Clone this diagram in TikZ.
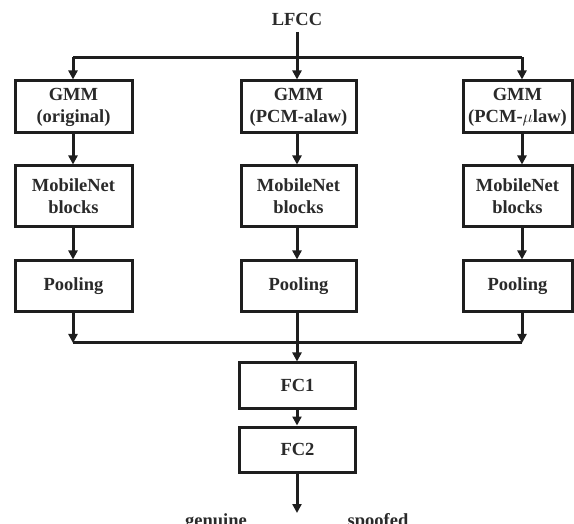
\documentclass[tikz,border=0pt]{standalone}
\usepackage{fontspec}
\setmainfont{Liberation Serif}
\usetikzlibrary{arrows.meta}
\definecolor{linec}{HTML}{1E1E1E}
\definecolor{txtc}{HTML}{2A2A2A}
\begin{document}
\begin{tikzpicture}[x=1pt,y=-1pt,
  blk/.style={draw=linec, line width=3pt, fill=white, text=txtc, align=center,
    inner sep=0pt, font=\fontsize{18.5}{22}\selectfont\bfseries},
  lbl/.style={text=txtc, inner sep=0pt, font=\fontsize{18.5}{22}\selectfont\bfseries},
  ln/.style={draw=linec, line width=3pt},
  arr/.style={ln, -{Triangle[length=9pt,width=9pt]}}]
\useasboundingbox (0,0) rectangle (574,524);

% input
\node[lbl, anchor=base] (lfcc) at (297,25.5) {LFCC};
\coordinate (src) at (297,32);
\coordinate (top) at (297,57.5);
\coordinate (tl) at (73,57.5);
\coordinate (tr) at (522,57.5);

% GMM row
\node[blk, minimum width=117pt, minimum height=52pt] (g1) at (73.5,107) {GMM\\(original)};
\node[blk, minimum width=115pt, minimum height=52pt] (g2) at (298.5,107) {GMM\\(PCM-alaw)};
\node[blk, minimum width=109pt, minimum height=52pt] (g3) at (517.5,107) {GMM\\(PCM-$\mu$law)};

% MobileNet row
\node[blk, minimum width=117pt, minimum height=61pt] (m1) at (73.5,196.5) {MobileNet\\blocks};
\node[blk, minimum width=115pt, minimum height=61pt] (m2) at (298.5,196.5) {MobileNet\\blocks};
\node[blk, minimum width=109pt, minimum height=61pt] (m3) at (517.5,196.5) {MobileNet\\blocks};

% Pooling row
\node[blk, minimum width=117pt, minimum height=51pt] (p1) at (73.5,286.5) {Pooling};
\node[blk, minimum width=115pt, minimum height=51pt] (p2) at (298.5,286.5) {Pooling};
\node[blk, minimum width=109pt, minimum height=51pt] (p3) at (517.5,286.5) {Pooling};

% merge
\coordinate (bl) at (73,343);
\coordinate (bm) at (297,343);
\coordinate (br) at (522,343);

% FC layers
\node[blk, minimum width=116pt, minimum height=45pt] (f1) at (297.5,385.5) {FC1};
\node[blk, minimum width=116pt, minimum height=45pt] (f2) at (297.5,449.5) {FC2};
\coordinate (out) at (297,513);

% outputs (cut by the lower edge, as in the original)
\node[lbl, anchor=base] (gen) at (216,526.5) {genuine};
\node[lbl, anchor=base] (spf) at (378,526.5) {spoofed};

% connectors
\draw[ln] (src) -- (top);
\draw[ln] (tl) -- (tr);
\draw[arr] (tl) -- (tl |- g1.north);
\draw[arr] (top) -- (top |- g2.north);
\draw[arr] (tr) -- (tr |- g3.north);

\draw[arr] (tl |- g1.south) -- (tl |- m1.north);
\draw[arr] (top |- g2.south) -- (top |- m2.north);
\draw[arr] (tr |- g3.south) -- (tr |- m3.north);

\draw[arr] (tl |- m1.south) -- (tl |- p1.north);
\draw[arr] (top |- m2.south) -- (top |- p2.north);
\draw[arr] (tr |- m3.south) -- (tr |- p3.north);

\draw[ln] (bl) -- (br);
\draw[arr] (tl |- p1.south) -- (bl);
\draw[arr] (tr |- p3.south) -- (br);
\draw[arr] (top |- p2.south) -- (bm |- f1.north);

\draw[arr] (bm |- f1.south) -- (bm |- f2.north);
\draw[arr] (bm |- f2.south) -- (out);
\end{tikzpicture}
\end{document}
